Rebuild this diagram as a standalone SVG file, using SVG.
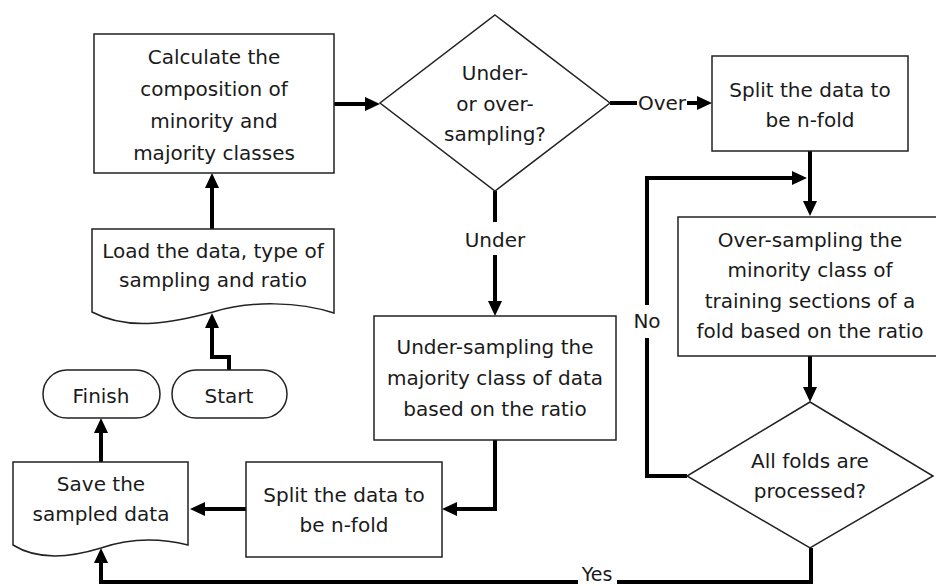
<svg xmlns="http://www.w3.org/2000/svg" width="936" height="586" viewBox="0 0 936 586">
<defs>
<style>
.s{fill:#fff;stroke:#222;stroke-width:1.5}
.t{font-family:"DejaVu Sans","Liberation Sans",sans-serif;font-size:20px;fill:#1a1a1a;text-anchor:middle}
.c{fill:none;stroke:#000;stroke-width:4}
.a{marker-end:url(#ah)}
</style>
<marker id="ah" markerUnits="userSpaceOnUse" markerWidth="15" markerHeight="14" refX="6" refY="7" orient="auto">
<path d="M0,0 L15,7 L0,14 z" fill="#000"/>
</marker>
</defs>
<rect width="936" height="586" fill="#fff"/>
<g id="connectors">
<path class="c a" d="M212,229 L212,182"/>
<path class="c a" d="M229,370 L229,357 L212,357 L212,322"/>
<path class="c a" d="M334,104 L371,104"/>
<path class="c" d="M610,103 L637,103"/>
<text class="t" x="662" y="110">Over</text>
<path class="c a" d="M687,103 L703,103"/>
<path class="c" d="M495,191 L495,222"/>
<text class="t" x="495" y="247">Under</text>
<path class="c a" d="M495,255 L495,307"/>
<path class="c a" d="M495,440 L495,509 L451,509"/>
<path class="c a" d="M246,509 L199,509"/>
<path class="c a" d="M101,462 L101,427"/>
<path class="c a" d="M810,151 L810,207"/>
<path class="c" d="M687,476 L647,476 L647,338"/>
<text class="t" x="647" y="328">No</text>
<path class="c a" d="M647,305 L647,178 L798,178"/>
<path class="c a" d="M810,356 L810,393"/>
<path class="c" d="M811,548 L811,582 L617,582"/>
<text class="t" x="597" y="581" style="font-size:19px">Yes</text>
<path class="c a" d="M578,582 L101,582 L101,557"/>
</g>
<g id="calc">
<rect class="s" x="94" y="34" width="240" height="139"/>
<text class="t" x="214" y="64">Calculate the</text>
<text class="t" x="214" y="96">composition of</text>
<text class="t" x="214" y="128">minority and</text>
<text class="t" x="214" y="160">majority classes</text>
</g>
<g id="decision1">
<polygon class="s" points="495,15 610,103 495,191 380,103"/>
<text class="t" x="495" y="80">Under-</text>
<text class="t" x="495" y="111">or over-</text>
<text class="t" x="495" y="141">sampling?</text>
</g>
<g id="split1">
<rect class="s" x="712" y="56" width="196" height="95"/>
<text class="t" x="810" y="97">Split the data to</text>
<text class="t" x="810" y="127">be n-fold</text>
</g>
<g id="load">
<path class="s" d="M92,229 H334 V313 C300,302 250,300 213,312 C175,322 130,332 92,312 Z"/>
<text class="t" x="213" y="258">Load the data, type of</text>
<text class="t" x="213" y="287">sampling and ratio</text>
</g>
<g id="start">
<rect class="s" x="172" y="370" width="115" height="48" rx="24" ry="24"/>
<text class="t" x="229" y="403">Start</text>
</g>
<g id="finish">
<rect class="s" x="43" y="370" width="117" height="48" rx="24" ry="24"/>
<text class="t" x="101" y="403">Finish</text>
</g>
<g id="undersample">
<rect class="s" x="374" y="316" width="242" height="124"/>
<text class="t" x="495" y="354">Under-sampling the</text>
<text class="t" x="495" y="385">majority class of data</text>
<text class="t" x="495" y="416">based on the ratio</text>
</g>
<g id="split2">
<rect class="s" x="246" y="462" width="196" height="95"/>
<text class="t" x="344" y="502">Split the data to</text>
<text class="t" x="344" y="532">be n-fold</text>
</g>
<g id="save">
<path class="s" d="M13,462 H188 V545 C160,538 130,538 101,548 C75,556 40,562 13,545 Z"/>
<text class="t" x="101" y="491">Save the</text>
<text class="t" x="101" y="521">sampled data</text>
</g>
<g id="oversample">
<rect class="s" x="678" y="217" width="270" height="139"/>
<text class="t" x="810" y="247">Over-sampling the</text>
<text class="t" x="810" y="277">minority class of</text>
<text class="t" x="810" y="308">training sections of a</text>
<text class="t" x="810" y="338">fold based on the ratio</text>
</g>
<g id="decision2">
<polygon class="s" points="810,402 933,476 810,548 687,476"/>
<text class="t" x="810" y="468">All folds are</text>
<text class="t" x="810" y="498">processed?</text>
</g>
</svg>
